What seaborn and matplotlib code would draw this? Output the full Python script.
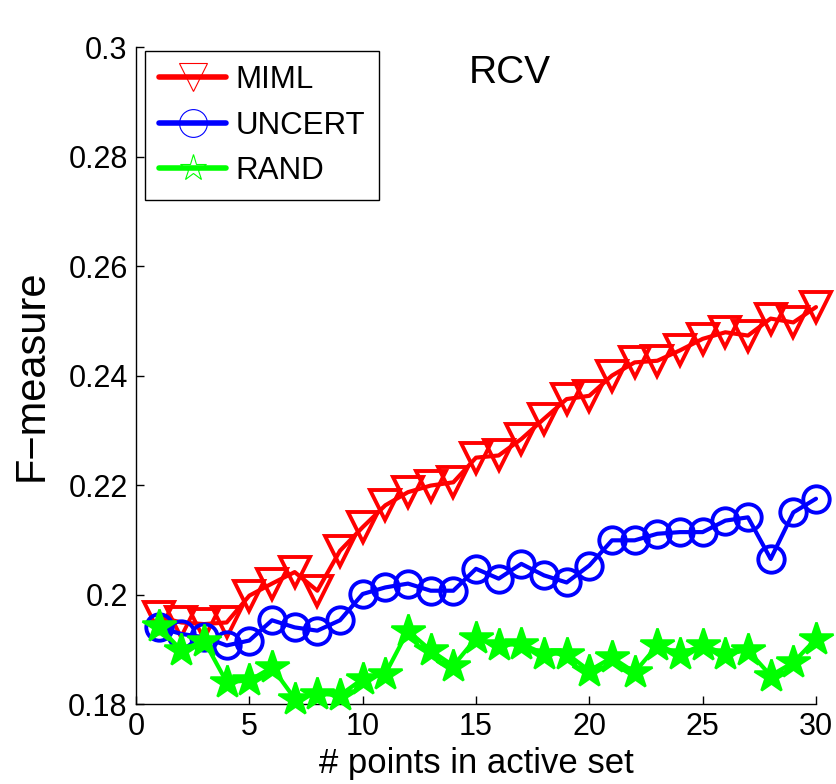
# Active learning curves on RCV: F-measure vs. size of the active set

# Import libraries
import pandas as pd
import numpy as np
import matplotlib
matplotlib.use("Agg")
import matplotlib.pyplot as plt
from matplotlib.lines import Line2D
import seaborn as sns

# Data
points = list(range(1, 31))
miml = [0.1959, 0.1949, 0.1946, 0.1949, 0.1998, 0.2020, 0.2041, 0.2007, 0.2080, 0.2123,
        0.2163, 0.2187, 0.2199, 0.2205, 0.2250, 0.2254, 0.2284, 0.2321, 0.2357, 0.2363,
        0.2400, 0.2424, 0.2427, 0.2446, 0.2467, 0.2479, 0.2473, 0.2504, 0.2497, 0.2525]
uncert = [0.1940, 0.1928, 0.1922, 0.1907, 0.1916, 0.1953, 0.1940, 0.1934, 0.1953, 0.2001,
          0.2013, 0.2020, 0.2007, 0.2007, 0.2047, 0.2029, 0.2056, 0.2035, 0.2022, 0.2053,
          0.2099, 0.2099, 0.2111, 0.2114, 0.2114, 0.2135, 0.2141, 0.2065, 0.2150, 0.2175]
rand = [0.1942, 0.1898, 0.1916, 0.1840, 0.1843, 0.1867, 0.1810, 0.1819, 0.1816, 0.1846,
        0.1855, 0.1934, 0.1898, 0.1870, 0.1920, 0.1907, 0.1910, 0.1892, 0.1892, 0.1861,
        0.1885, 0.1858, 0.1907, 0.1892, 0.1907, 0.1892, 0.1898, 0.1852, 0.1876, 0.1919]
methods = ["MIML", "UNCERT", "RAND"]
x_ticks = [0, 5, 10, 15, 20, 25, 30]
y_ticks = [0.18, 0.2, 0.22, 0.24, 0.26, 0.28, 0.3]
y_tick_labels = ["0.18", "0.2", "0.22", "0.24", "0.26", "0.28", "0.3"]

# Long table for seaborn
df = pd.DataFrame({
    "points": points * 3,
    "fmeasure": miml + uncert + rand,
    "method": ["MIML"] * 30 + ["UNCERT"] * 30 + ["RAND"] * 30,
})

# Style per method (matlab-like); the thick-edged stars look almost solid
styles = {
    "MIML": dict(color=(1, 0, 0), marker="v", ms=22, mew=2.8, mfc="none"),
    "UNCERT": dict(color=(0, 0, 1), marker="o", ms=19, mew=2.8, mfc="none"),
    "RAND": dict(color=(0, 1, 0), marker="*", ms=25, mew=1.8, mfc=(0, 1, 0)),
}

sns.set_style("ticks")
plt.rcParams["font.family"] = ["Liberation Sans", "DejaVu Sans"]
plt.rcParams["xtick.direction"] = "in"
plt.rcParams["ytick.direction"] = "in"
plt.rcParams["text.color"] = "black"
plt.rcParams["axes.labelcolor"] = "black"
plt.rcParams["xtick.color"] = "black"
plt.rcParams["ytick.color"] = "black"

fig = plt.figure(figsize=(8.37, 7.84), dpi=100)
ax = fig.add_axes([0.1625, 0.102, 0.8124, 0.838])

for m in methods:
    st = styles[m]
    sns.lineplot(data=df[df["method"] == m], x="points", y="fmeasure", ax=ax,
                 color=st["color"], linewidth=3, marker=st["marker"], markersize=st["ms"],
                 markerfacecolor=st["mfc"], markeredgecolor=st["color"], markeredgewidth=st["mew"],
                 clip_on=False, legend=False, zorder=3)

ax.set_xlim(0, 30)
ax.set_ylim(0.18, 0.3)
ax.set_xticks(x_ticks)
ax.set_yticks(y_ticks)
ax.set_yticklabels(y_tick_labels)
ax.tick_params(axis="both", labelsize=22, length=6, width=1, pad=6, colors="black")
for pos in ["right", "top"]:
    ax.spines[pos].set_visible(False)
for pos in ["left", "bottom"]:
    ax.spines[pos].set_linewidth(1)
    ax.spines[pos].set_color("black")

ax.set_xlabel("# points in active set", fontsize=25, labelpad=3)
ax.set_ylabel("F\u2212measure", fontsize=30, labelpad=12)

# Title sits inside the axes in the original
ax.text(0.55, 0.988, "RCV", transform=ax.transAxes, ha="center", va="top", fontsize=28)

# Legend with thick lines and thin open markers
handles = [Line2D([], [], color=styles[m]["color"], lw=4, marker=styles[m]["marker"],
                  ms=20, mfc="none", mec=styles[m]["color"], mew=0.8)
           for m in methods]
leg = ax.legend(handles, methods, loc="upper left", bbox_to_anchor=(0.013, 0.994),
                borderaxespad=0, fontsize=22.5, handlelength=2.15, handletextpad=0.3,
                labelspacing=0.5, borderpad=0.45, fancybox=False, framealpha=1,
                edgecolor="black")
leg.get_frame().set_linewidth(1)

plt.savefig("out.png", dpi=100)
plt.close()
